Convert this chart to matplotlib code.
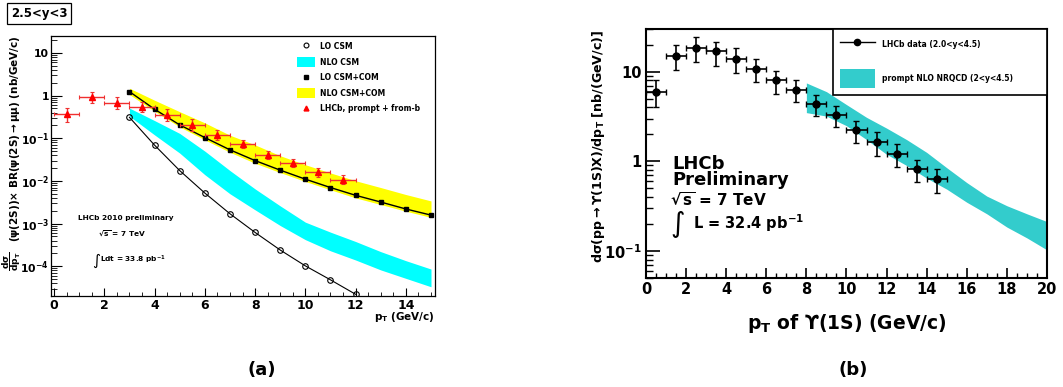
import matplotlib
matplotlib.use("Agg")
import matplotlib.pyplot as plt
from matplotlib.lines import Line2D
from matplotlib.patches import Patch
from matplotlib.ticker import LogLocator, NullFormatter, MultipleLocator

plt.rcParams.update({
    "font.family": ["DejaVu Sans"],
    "font.weight": "bold",
    "axes.labelweight": "bold",
    "mathtext.fontset": "dejavusans",
    "mathtext.default": "bf",
    "xtick.direction": "in",
    "ytick.direction": "in",
})

# ---- panel (a): psi(2S), 2.5<y<3 ----
pt_lo = [3, 4, 5, 6, 7, 8, 9, 10, 11, 12]
lo_csm = [0.31, 0.069, 0.0175, 0.0052, 0.0017, 6.2e-4, 2.4e-4, 1.02e-4, 4.8e-5, 2.2e-5]

pt_th = [3, 4, 5, 6, 7, 8, 9, 10, 11, 12, 13, 14, 15]
lo_com = [1.24, 0.48, 0.206, 0.104, 0.0536, 0.030, 0.0179, 0.011, 0.0070,
          0.0046, 0.0032, 0.0022, 0.00158]
nlo_csm_hi = [0.51, 0.26, 0.13, 0.050, 0.0175, 0.0065, 0.0026, 0.00108,
              0.00063, 0.00038, 0.00022, 0.000135, 0.000086]
nlo_csm_lo = [0.33, 0.12, 0.045, 0.014, 0.0050, 0.0021, 0.0009, 0.00042,
              0.00023, 0.00014, 0.000082, 0.000052, 0.000033]
nlo_com_hi = [1.49, 0.78, 0.42, 0.23, 0.118, 0.07, 0.039, 0.024, 0.0154,
              0.0101, 0.0070, 0.0048, 0.0034]
nlo_com_lo = [1.06, 0.43, 0.185, 0.092, 0.047, 0.026, 0.0157, 0.0097,
              0.0062, 0.0040, 0.0028, 0.00195, 0.0014]

psi_pt = [0.5, 1.5, 2.5, 3.5, 4.5, 5.5, 6.5, 7.5, 8.5, 9.5, 10.5, 11.5]
psi_val = [0.37, 0.91, 0.66, 0.55, 0.35, 0.206, 0.12, 0.073, 0.040, 0.026, 0.0158, 0.0106]
psi_hi = [0.51, 1.24, 0.91, 0.69, 0.48, 0.28, 0.157, 0.092, 0.049, 0.032, 0.020, 0.0135]
psi_lo = [0.245, 0.66, 0.48, 0.42, 0.26, 0.152, 0.092, 0.058, 0.032, 0.021, 0.0127, 0.0085]
psi_binw = [0.5] * 12

# ---- panel (b): Upsilon(1S) ----
ups_pt = [0.5, 1.5, 2.5, 3.5, 4.5, 5.5, 6.5, 7.5, 8.5, 9.5, 10.5, 11.5, 12.5, 13.5, 14.5]
ups_val = [6.0, 15.1, 18.5, 16.9, 14.0, 10.8, 8.0, 6.25, 4.35, 3.31, 2.23, 1.65, 1.22, 0.82, 0.63]
ups_hi = [8.0, 19.9, 24.2, 21.6, 18.2, 13.9, 10.1, 8.0, 5.5, 4.17, 2.84, 2.14, 1.58, 1.03, 0.82]
ups_lo = [4.07, 10.4, 12.9, 11.7, 9.7, 7.6, 5.7, 4.55, 3.22, 2.39, 1.60, 1.15, 0.855, 0.596, 0.44]
ups_binw = [0.5] * 15

nrqcd_pt = [8, 9, 10, 11, 12, 13, 14, 15, 16, 17, 18, 19, 20]
nrqcd_hi = [7.5, 6.0, 4.3, 3.1, 2.35, 1.75, 1.26, 0.85, 0.58, 0.41, 0.32, 0.26, 0.213]
nrqcd_lo = [3.5, 3.2, 2.5, 1.75, 1.2, 0.9, 0.65, 0.49, 0.35, 0.26, 0.185, 0.14, 0.103]

ticks_a = [1e-4, 1e-3, 1e-2, 1e-1, 1, 10]
labels_a = ["$10^{-4}$", "$10^{-3}$", "$10^{-2}$", "$10^{-1}$", "1", "10"]
ticks_b = [0.1, 1, 10]
labels_b = ["$10^{-1}$", "1", "10"]

fig = plt.figure(figsize=(10.63, 3.87), dpi=100)

# ================= (a) =================
ax = fig.add_axes([0.048, 0.235, 0.361, 0.672])
ax.fill_between(pt_th, nlo_com_lo, nlo_com_hi, color="#ffff00", lw=0, zorder=1)
ax.fill_between(pt_th, nlo_csm_lo, nlo_csm_hi, color="#00ffff", lw=0, zorder=1)
ax.plot(pt_lo, lo_csm, color="k", lw=0.8, marker="o", ms=4, mfc="none",
        mec="k", mew=0.8, zorder=3)
ax.plot(pt_th, lo_com, color="k", lw=1.0, marker="s", ms=3.5, zorder=3)
yerr_a = [[v - l for v, l in zip(psi_val, psi_lo)], [h - v for v, h in zip(psi_val, psi_hi)]]
ax.errorbar(psi_pt, psi_val, xerr=psi_binw, yerr=yerr_a, fmt="^", color="#ff0000",
            ecolor="#f03030", ms=4, elinewidth=1.0, capsize=1.5, capthick=0.8, zorder=4)

ax.set_yscale("log")
ax.set_xlim(-0.12, 15.15)
ax.set_ylim(2e-5, 25)
ax.set_yticks(ticks_a, labels_a)
ax.yaxis.set_minor_locator(LogLocator(base=10, subs=range(2, 10), numticks=20))
ax.yaxis.set_minor_formatter(NullFormatter())
ax.xaxis.set_major_locator(MultipleLocator(2))
ax.xaxis.set_minor_locator(MultipleLocator(0.5))
ax.tick_params(which="major", axis="y", length=8, width=0.8, labelsize=7.8, pad=1.5)
ax.tick_params(which="minor", axis="y", length=4, width=0.6)
ax.tick_params(which="major", axis="x", length=6, width=0.8, labelsize=9, pad=2)
ax.tick_params(which="minor", axis="x", length=3, width=0.6)
for s in ax.spines.values():
    s.set_linewidth(0.9)

# y title drawn in two pieces (ROOT style: large fraction, then the rest)
fig.text(11.5 / 1063, 1 - 261 / 387, r"$\dfrac{d\sigma}{dp_T}$", fontsize=6.6,
         rotation=90, ha="center", va="center")
fig.text(15.5 / 1063, 1 - 139 / 387,
         r"($\psi$(2S))$\times$ BR($\psi$(2S)$\rightarrow\mu\mu$) (nb/GeV/c)",
         fontsize=7.5, rotation=90, ha="center", va="center")
ax.text(1.0, -0.08, "p$_T$ (GeV/c)", transform=ax.transAxes, ha="right",
        va="center", fontsize=7.5)

handles_a = [
    Line2D([], [], ls="none", marker="o", ms=3.5, mfc="none", mec="k", mew=0.8),
    Patch(fc="#00ffff", ec="none"),
    Line2D([], [], ls="none", marker="s", ms=3, color="k"),
    Patch(fc="#ffff00", ec="none"),
    Line2D([], [], ls="none", marker="^", ms=3.5, color="#ff0000"),
]
labels_leg_a = ["LO CSM", "NLO CSM", "LO CSM+COM", "NLO CSM+COM", "LHCb, prompt + from-b"]
ax.legend(handles_a, labels_leg_a, loc="upper left", bbox_to_anchor=(0.64, 0.978),
          frameon=False, fontsize=5.5, handlelength=2.4, handleheight=1.6,
          handletextpad=0.7, labelspacing=0.75, borderpad=0, borderaxespad=0)

ax.text(0.07, 0.30, "LHCb 2010 preliminary", transform=ax.transAxes, fontsize=5.3,
        va="center")
ax.text(0.185, 0.242, r"$\sqrt{s}$ = 7 TeV", transform=ax.transAxes, fontsize=5.3,
        va="center", ha="center")
ax.text(0.108, 0.138, "\u222b", transform=ax.transAxes, fontsize=11, va="center",
        fontweight="normal")
ax.text(0.127, 0.138, "Ldt = 33.8 pb$^{-1}$", transform=ax.transAxes, fontsize=5.3,
        va="center")

fig.text(11 / 1063, 1 - 13.5 / 387, "2.5<y<3", fontsize=8.5, va="center", ha="left",
         bbox=dict(boxstyle="square,pad=0.3", fc="white", ec="k", lw=0.9))
fig.text(262 / 1063, 1 - 370 / 387, "(a)", fontsize=13, ha="center", va="center")

# ================= (b) =================
bx = fig.add_axes([0.6077, 0.2817, 0.3772, 0.6434])
bx.fill_between(nrqcd_pt, nrqcd_lo, nrqcd_hi, color="#33cccc", lw=0, zorder=1)
yerr_b = [[v - l for v, l in zip(ups_val, ups_lo)], [h - v for v, h in zip(ups_val, ups_hi)]]
bx.errorbar(ups_pt, ups_val, xerr=ups_binw, yerr=yerr_b, fmt="o", color="k", ms=5,
            elinewidth=1.2, capsize=2, capthick=1.0, zorder=3)

bx.set_yscale("log")
bx.set_xlim(0, 20)
bx.set_ylim(0.05, 30)
bx.set_yticks(ticks_b, labels_b)
bx.yaxis.set_minor_locator(LogLocator(base=10, subs=range(2, 10), numticks=20))
bx.yaxis.set_minor_formatter(NullFormatter())
bx.xaxis.set_major_locator(MultipleLocator(2))
bx.xaxis.set_minor_locator(MultipleLocator(0.5))
bx.tick_params(which="major", axis="y", length=10, width=1.2, labelsize=10.5, pad=3)
bx.tick_params(which="minor", axis="y", length=5, width=1.0)
bx.tick_params(which="major", axis="x", length=7, width=1.2, labelsize=10.5, pad=3)
bx.tick_params(which="minor", axis="x", length=3.5, width=1.0)
for s in bx.spines.values():
    s.set_linewidth(1.5)

bx.set_xlabel("p$_T$ of \u03d2(1S) (GeV/c)", fontsize=13.5)
bx.xaxis.set_label_coords(0.5, -0.137)
bx.set_ylabel("d$\\sigma$(pp$\\rightarrow$\u03d2(1S)X)/dp$_T$ [nb/(GeV/c)]", fontsize=9.1)
bx.yaxis.set_label_coords(-0.097, 0.53)

handles_b = [Line2D([], [], color="k", marker="o", ms=4.5, lw=1.0),
             Patch(fc="#33cccc", ec="none")]
labels_leg_b = ["LHCb data (2.0<y<4.5)", "prompt NLO NRQCD (2<y<4.5)"]
leg = bx.legend(handles_b, labels_leg_b, loc="upper left",
                bbox_to_anchor=(0.466, 0, 0.534, 1.0), mode="expand",
                fontsize=5.5, handlelength=4.6, handleheight=3.4,
                handletextpad=0.9, labelspacing=1.9, borderpad=0.9,
                borderaxespad=0, fancybox=False, framealpha=1, edgecolor="k")
leg.get_frame().set_linewidth(1.2)

bx.text(0.067, 0.458, "LHCb", transform=bx.transAxes, fontsize=13, va="center")
bx.text(0.067, 0.392, "Preliminary", transform=bx.transAxes, fontsize=13, va="center")
bx.text(0.06, 0.313, r"$\sqrt{s}$ = 7 TeV", transform=bx.transAxes, fontsize=11,
        va="center")
bx.text(0.06, 0.217, "\u222b", transform=bx.transAxes, fontsize=20, va="center",
        fontweight="normal")
bx.text(0.117, 0.222, "L = 32.4 pb$^{-1}$", transform=bx.transAxes, fontsize=10.5,
        va="center")

fig.text(853 / 1063, 1 - 370 / 387, "(b)", fontsize=13, ha="center", va="center")

fig.savefig("out.png", dpi=100)
